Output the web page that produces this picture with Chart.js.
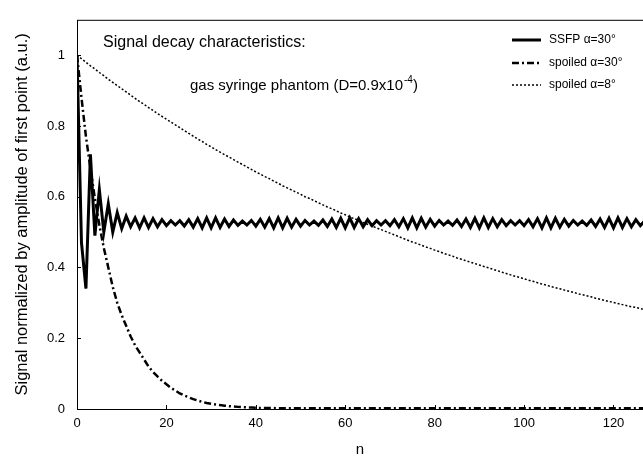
<!DOCTYPE html>
<html>
<head>
<meta charset="utf-8">
<script src="https://cdn.jsdelivr.net/npm/chart.js@4.4.0/dist/chart.umd.min.js"></script>
<style>
  html, body { margin: 0; padding: 0; background: #fff; }
  canvas { display: block; }
</style>
</head>
<body>
<canvas id="chart" width="643" height="461"></canvas>
<script>
// pulse number n
const nValues = [
  0, 1, 2, 3, 4, 5, 6, 7, 8, 9,
  10, 11, 12, 13, 14, 15, 16, 17, 18, 19,
  20, 21, 22, 23, 24, 25, 26, 27, 28, 29,
  30, 31, 32, 33, 34, 35, 36, 37, 38, 39,
  40, 41, 42, 43, 44, 45, 46, 47, 48, 49,
  50, 51, 52, 53, 54, 55, 56, 57, 58, 59,
  60, 61, 62, 63, 64, 65, 66, 67, 68, 69,
  70, 71, 72, 73, 74, 75, 76, 77, 78, 79,
  80, 81, 82, 83, 84, 85, 86, 87, 88, 89,
  90, 91, 92, 93, 94, 95, 96, 97, 98, 99,
  100, 101, 102, 103, 104, 105, 106, 107, 108, 109,
  110, 111, 112, 113, 114, 115, 116, 117, 118, 119,
  120, 121, 122, 123, 124, 125, 126, 127
];

const ssfp30 = [
  1.00, 0.47, 0.34, 0.72, 0.49, 0.62, 0.50, 0.58, 0.50, 0.555,
  0.51, 0.545, 0.515, 0.54, 0.512, 0.54, 0.513, 0.538, 0.515, 0.535,
  0.518, 0.532, 0.52, 0.532, 0.517, 0.535, 0.514, 0.538, 0.512, 0.54,
  0.512, 0.54, 0.513, 0.537, 0.516, 0.534, 0.519, 0.531, 0.52, 0.533,
  0.517, 0.536, 0.514, 0.538, 0.512, 0.54, 0.512, 0.539, 0.514, 0.536,
  0.517, 0.533, 0.52, 0.531, 0.519, 0.534, 0.516, 0.537, 0.513, 0.539,
  0.512, 0.54, 0.513, 0.538, 0.515, 0.535, 0.518, 0.532, 0.52, 0.532,
  0.518, 0.535, 0.515, 0.538, 0.512, 0.54, 0.512, 0.539, 0.514, 0.536,
  0.517, 0.533, 0.52, 0.531, 0.519, 0.534, 0.516, 0.537, 0.513, 0.539,
  0.512, 0.54, 0.513, 0.538, 0.515, 0.535, 0.518, 0.532, 0.52, 0.532,
  0.518, 0.535, 0.515, 0.538, 0.512, 0.54, 0.512, 0.539, 0.514, 0.536,
  0.517, 0.533, 0.52, 0.531, 0.519, 0.534, 0.516, 0.537, 0.513, 0.539,
  0.512, 0.54, 0.513, 0.538, 0.515, 0.535, 0.518, 0.532
];

const spoiled30 = [
  1.00, 0.88, 0.77, 0.68, 0.595, 0.52, 0.455, 0.40, 0.345, 0.30,
  0.265, 0.235, 0.205, 0.18, 0.16, 0.14, 0.12, 0.105, 0.092, 0.08,
  0.07, 0.06, 0.052, 0.044, 0.038, 0.033, 0.028, 0.024, 0.02, 0.017,
  0.015, 0.013, 0.011, 0.0095, 0.008, 0.007, 0.006, 0.005, 0.0045, 0.004,
  0.0035, 0.003, 0.003, 0.0025, 0.0025, 0.002, 0.002, 0.002, 0.002, 0.002,
  0.002, 0.002, 0.002, 0.002, 0.002, 0.002, 0.002, 0.002, 0.002, 0.002,
  0.002, 0.002, 0.002, 0.002, 0.002, 0.002, 0.002, 0.002, 0.002, 0.002,
  0.002, 0.002, 0.002, 0.002, 0.002, 0.002, 0.002, 0.002, 0.002, 0.002,
  0.002, 0.002, 0.002, 0.002, 0.002, 0.002, 0.002, 0.002, 0.002, 0.002,
  0.002, 0.002, 0.002, 0.002, 0.002, 0.002, 0.002, 0.002, 0.002, 0.002,
  0.002, 0.002, 0.002, 0.002, 0.002, 0.002, 0.002, 0.002, 0.002, 0.002,
  0.002, 0.002, 0.002, 0.002, 0.002, 0.002, 0.002, 0.002, 0.002, 0.002,
  0.002, 0.002, 0.002, 0.002, 0.002, 0.002, 0.002, 0.002
];

const spoiled8 = [
  1.000, 0.990, 0.980, 0.970, 0.961, 0.951, 0.942, 0.932, 0.923, 0.914,
  0.905, 0.896, 0.887, 0.878, 0.869, 0.861, 0.852, 0.844, 0.835, 0.827,
  0.819, 0.811, 0.803, 0.795, 0.787, 0.779, 0.771, 0.763, 0.756, 0.748,
  0.741, 0.733, 0.726, 0.719, 0.712, 0.705, 0.698, 0.691, 0.684, 0.677,
  0.670, 0.664, 0.657, 0.651, 0.644, 0.638, 0.631, 0.625, 0.619, 0.613,
  0.607, 0.600, 0.595, 0.589, 0.583, 0.577, 0.571, 0.566, 0.560, 0.554,
  0.549, 0.543, 0.538, 0.533, 0.527, 0.522, 0.517, 0.512, 0.507, 0.502,
  0.497, 0.492, 0.487, 0.482, 0.477, 0.472, 0.468, 0.463, 0.458, 0.454,
  0.449, 0.445, 0.440, 0.436, 0.432, 0.427, 0.423, 0.419, 0.415, 0.411,
  0.407, 0.403, 0.399, 0.395, 0.391, 0.387, 0.383, 0.379, 0.375, 0.372,
  0.368, 0.364, 0.361, 0.357, 0.353, 0.350, 0.346, 0.343, 0.340, 0.336,
  0.333, 0.330, 0.326, 0.323, 0.320, 0.317, 0.313, 0.310, 0.307, 0.304,
  0.301, 0.298, 0.295, 0.292, 0.289, 0.287, 0.284, 0.281
];

const seriesLabels = ['SSFP \u03b1=30\u00b0', 'spoiled \u03b1=30\u00b0', 'spoiled \u03b1=8\u00b0'];
const noteTitle = 'Signal decay characteristics:';
const noteSample = 'gas syringe phantom (D=0.9x10';
const noteExponent = '-4';

const FONT = '"Liberation Sans", Arial, sans-serif';

function toPoints(values) {
  return values.map((v, i) => ({ x: nValues[i], y: v }));
}

// box round the plot, inward tick marks, notes and legend
const decorPlugin = {
  id: 'decor',
  afterDraw(chart) {
    const { ctx, chartArea: a, scales: { x, y } } = chart;
    ctx.save();
    ctx.strokeStyle = '#000';
    ctx.lineWidth = 1;
    ctx.setLineDash([]);
    ctx.strokeRect(a.left + 0.5, a.top + 0.5, a.right - a.left, a.bottom - a.top);

    ctx.beginPath();
    y.ticks.forEach(t => {
      const py = Math.round(y.getPixelForValue(t.value)) + 0.5;
      ctx.moveTo(a.left, py);
      ctx.lineTo(a.left + 4, py);
    });
    x.ticks.forEach(t => {
      const px = Math.round(x.getPixelForValue(t.value)) + 0.5;
      ctx.moveTo(px, a.bottom);
      ctx.lineTo(px, a.bottom - 4);
    });
    ctx.stroke();

    ctx.fillStyle = '#000';
    ctx.textBaseline = 'alphabetic';
    ctx.textAlign = 'left';
    ctx.font = '16px ' + FONT;
    ctx.fillText(noteTitle, 103, 47);

    ctx.font = '15px ' + FONT;
    let tx = 190;
    ctx.fillText(noteSample, tx, 90);
    tx += ctx.measureText(noteSample).width;
    ctx.font = '10px ' + FONT;
    ctx.fillText(noteExponent, tx + 1, 83);
    tx += ctx.measureText(noteExponent).width + 1;
    ctx.font = '15px ' + FONT;
    ctx.fillText(')', tx, 90);

    // legend
    ctx.font = '12px ' + FONT;
    ctx.textBaseline = 'middle';
    const rows = [40, 63, 85];
    chart.data.datasets.forEach((ds, i) => {
      const ly = rows[i];
      ctx.beginPath();
      ctx.lineWidth = ds.borderWidth;
      ctx.setLineDash(ds.borderDash || []);
      ctx.moveTo(512, ly);
      ctx.lineTo(541, ly);
      ctx.stroke();
      ctx.setLineDash([]);
      ctx.fillText(ds.label, 549, ly);
    });
    ctx.restore();
  }
};

new Chart(document.getElementById('chart'), {
  type: 'line',
  data: {
    datasets: [
      {
        label: seriesLabels[0],
        data: toPoints(ssfp30),
        borderColor: '#000',
        borderWidth: 3,
        pointRadius: 0,
        tension: 0
      },
      {
        label: seriesLabels[1],
        data: toPoints(spoiled30),
        borderColor: '#000',
        borderWidth: 2.5,
        borderDash: [7, 3, 2, 3],
        pointRadius: 0,
        tension: 0
      },
      {
        label: seriesLabels[2],
        data: toPoints(spoiled8),
        borderColor: '#000',
        borderWidth: 1.5,
        borderDash: [2, 2],
        pointRadius: 0,
        tension: 0
      }
    ]
  },
  options: {
    responsive: false,
    animation: false,
    devicePixelRatio: 1,
    layout: { padding: { top: 11, right: 0, bottom: 0, left: 0 } },
    plugins: {
      legend: { display: false },
      tooltip: { enabled: false }
    },
    scales: {
      x: {
        type: 'linear',
        min: 0,
        max: 126.6,
        grid: { display: false, drawTicks: false },
        border: { display: false },
        ticks: {
          stepSize: 20,
          includeBounds: false,
          maxRotation: 0,
          padding: 7,
          color: '#000',
          font: { family: FONT, size: 13 }
        },
        title: {
          display: true,
          text: 'n',
          color: '#000',
          font: { family: FONT, size: 15 },
          padding: { top: 2, bottom: 2 }
        },
        afterFit: (scale) => { scale.height = 52; }
      },
      y: {
        min: 0,
        max: 1.1,
        grid: { display: false, drawTicks: false },
        border: { display: false },
        ticks: {
          stepSize: 0.2,
          includeBounds: false,
          padding: 12,
          color: '#000',
          font: { family: FONT, size: 13 },
          callback: (v) => String(+v.toFixed(1))
        },
        title: {
          display: true,
          text: 'Signal normalized by amplitude of first point (a.u.)',
          color: '#000',
          font: { family: FONT, size: 16.5 },
          padding: { top: 13, bottom: 0 }
        },
        afterFit: (scale) => { scale.width = 77; }
      }
    }
  },
  plugins: [decorPlugin]
});
</script>
</body>
</html>
